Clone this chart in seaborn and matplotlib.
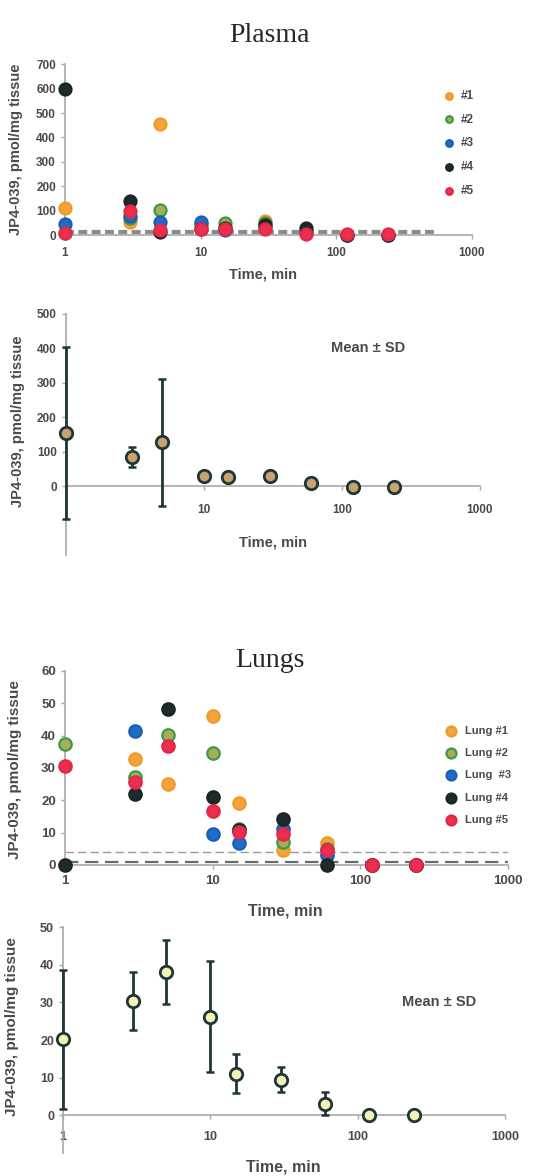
import numpy as np
import pandas as pd
import matplotlib
matplotlib.use("Agg")
import matplotlib.pyplot as plt
import seaborn as sns

# sampling times (min)
times = [1, 3, 5, 10, 15, 30, 60, 120, 240]

# plasma, individual animals
plasma_1 = [110, 55, 455, 40, 35, 60, 10, 0, 0]
plasma_2 = [10, 70, 105, 45, 50, 48, 12, 0, 0]
plasma_3 = [45, 80, 55, 55, 20, 35, 15, 0, 0]
plasma_4 = [600, 140, 15, 25, 30, 40, 28, 0, 0]
plasma_5 = [7, 100, 23, 27, 27, 25, 5, 3, 3]
plasma_names = ["#1", "#2", "#3", "#4", "#5"]

# plasma, mean and SD
plasma_mean = [155, 85, 127, 30, 27, 30, 10, -2, -2]
plasma_sd = [250, 30, 185, 0, 0, 0, 0, 0, 0]

# lungs, individual animals
lung_1 = [np.nan, 32.7, 25.0, 46.0, 19.3, 4.6, 6.9, 0, 0]
lung_2 = [37.3, 27.3, 40.2, 34.5, 11.0, 7.2, 5.0, 0, 0]
lung_3 = [np.nan, 41.4, np.nan, 9.6, 6.9, 11.0, 3.0, 0, 0]
lung_4 = [0.0, 21.9, 48.2, 20.9, 10.8, 14.1, 0.0, 0, 0]
lung_5 = [30.6, 25.8, 36.8, 16.8, 10.1, 9.6, 4.6, 0, 0]
lung_names = ["Lung #1", "Lung #2", "Lung  #3", "Lung #4", "Lung #5"]

# lungs, mean and SD
lung_mean = [20.2, 30.4, 38.2, 26.2, 11.1, 9.5, 3.1, 0, 0]
lung_sd = [18.5, 7.6, 8.5, 14.8, 5.1, 3.4, 3.0, 0, 0]

face_cols = ["#f5a33a", "#a8ad5c", "#1f6cc8", "#1e2b2b", "#ec2f4e"]
edge_cols = ["#f09a2a", "#3b9a45", "#1a5fb5", "#1a2626", "#e32748"]

sns.set_style("ticks")
plt.rcParams["font.family"] = ["Liberation Sans", "DejaVu Sans"]
plt.rcParams["font.weight"] = "bold"

txt_col = "#4a4a4a"
spine_col = "#a8a8a8"


def long_table(series, names):
    rows = []
    for vals, name in zip(series, names):
        for t, v in zip(times, vals):
            rows.append({"time": t, "value": v, "animal": name})
    return pd.DataFrame(rows).dropna()


def style_axis(ax, ymax, ystep, tick_fs, label_fs, xlab_fs, xpad):
    ax.set_xscale("log")
    ax.set_xlim(1, 1000)
    ax.set_xticks([1, 10, 100, 1000])
    ax.set_xticklabels(["1", "10", "100", "1000"])
    ax.xaxis.set_minor_locator(matplotlib.ticker.NullLocator())
    ax.set_yticks(np.arange(0, ymax + 1, ystep))
    for side in ["top", "right"]:
        ax.spines[side].set_visible(False)
    for side in ["left", "bottom"]:
        ax.spines[side].set_color(spine_col)
        ax.spines[side].set_linewidth(1.2)
    ax.tick_params(colors=spine_col, labelcolor=txt_col, labelsize=tick_fs, length=3, width=1)
    ax.tick_params(axis="x", pad=xpad)
    ax.set_xlabel("Time, min", fontsize=xlab_fs, fontweight="bold", color=txt_col)
    ax.set_ylabel("JP4-039, pmol/mg tissue", fontsize=label_fs, fontweight="bold", color=txt_col)


def scatter_panel(ax, df, names, size):
    for i, name in enumerate(names):
        sns.scatterplot(data=df[df["animal"] == name], x="time", y="value", ax=ax,
                        color=face_cols[i], edgecolor=edge_cols[i], linewidth=1.6,
                        s=size, label=name, clip_on=False, zorder=3 + i)


def mean_panel(ax, mean, sd, face):
    ax.errorbar(times, mean, yerr=sd, fmt="none", ecolor="#1f3636",
                elinewidth=2, capsize=3, capthick=1.8, zorder=3, clip_on=False)
    sns.scatterplot(x=times, y=mean, ax=ax, color=face, edgecolor="#1f3636",
                    linewidth=2, s=80, zorder=4, clip_on=False)


fig = plt.figure(figsize=(5.44, 11.76), dpi=100)

fig.text(0.496, 0.970, "Plasma", family="Liberation Serif", fontsize=20,
         fontweight="normal", ha="center", va="center")
fig.text(0.496, 0.438, "Lungs", family="Liberation Serif", fontsize=20,
         fontweight="normal", ha="center", va="center")

# Plasma individual
ax1 = fig.add_axes([0.1195, 0.800, 0.748, 0.1454])
plasma_df = long_table([plasma_1, plasma_2, plasma_3, plasma_4, plasma_5], plasma_names)
scatter_panel(ax1, plasma_df, plasma_names, 75)
ax1.plot([1, 550], [10, 10], color="#8c8c8c", lw=1.6, ls=(0, (4, 2)), zorder=2)
ax1.plot([1, 550], [18, 18], color="#8c8c8c", lw=1.6, ls=(0, (4, 2)), zorder=2)
style_axis(ax1, 700, 100, 8.5, 10.5, 10.5, 5.5)
ax1.set_ylim(0, 700)
ax1.yaxis.set_label_coords(-0.103, 0.5)
ax1.xaxis.set_label_coords(0.487, -0.19)
leg = ax1.legend(loc="upper left", bbox_to_anchor=(0.9, 0.885), frameon=False,
                 fontsize=8.5, handletextpad=0.0, labelspacing=1.0, markerscale=0.55,
                 borderpad=0)
for t in leg.get_texts():
    t.set_color(txt_col)

# Plasma mean
ax2 = fig.add_axes([0.121, 0.528, 0.761, 0.205])
mean_panel(ax2, plasma_mean, plasma_sd, "#c9a36e")
style_axis(ax2, 500, 100, 8.5, 10.5, 10.5, 9.5)
ax2.set_ylim(-200, 500)
ax2.set_xticklabels(["", "10", "100", "1000"])
ax2.spines["bottom"].set_position(("data", 0))
ax2.text(0.73, 0.86, "Mean \u00b1 SD", transform=ax2.transAxes, fontsize=10.5,
         fontweight="bold", color=txt_col, ha="center", va="center")
ax2.yaxis.set_label_coords(-0.099, 0.556)
ax2.xaxis.set_label_coords(0.50, 0.08)

# Lungs individual
ax3 = fig.add_axes([0.1195, 0.2645, 0.814, 0.165])
lung_df = long_table([lung_1, lung_2, lung_3, lung_4, lung_5], lung_names)
scatter_panel(ax3, lung_df, lung_names, 80)
ax3.plot([1, 1000], [4, 4], color="#9a9a9a", lw=1.0, ls=(0, (6, 3)), zorder=2)
ax3.plot([1, 1000], [0.8, 0.8], color="#6a6a6a", lw=1.6, ls=(0, (6, 3)), zorder=2)
style_axis(ax3, 60, 10, 9.5, 11, 11.5, 4)
ax3.set_ylim(0, 60)
ax3.yaxis.set_label_coords(-0.098, 0.49)
ax3.xaxis.set_label_coords(0.497, -0.2)
leg = ax3.legend(loc="upper left", bbox_to_anchor=(0.835, 0.745), frameon=False,
                 fontsize=8, handletextpad=0.2, labelspacing=1.1, markerscale=0.8,
                 borderpad=0)
for t in leg.get_texts():
    t.set_color(txt_col)

# Lungs mean
ax4 = fig.add_axes([0.116, 0.0196, 0.8125, 0.192])
mean_panel(ax4, lung_mean, lung_sd, "#f2f2b4")
style_axis(ax4, 50, 10, 9, 11, 11.5, 8)
ax4.set_ylim(-10, 50)
ax4.spines["bottom"].set_position(("data", 0))
ax4.text(0.85, 0.67, "Mean \u00b1 SD", transform=ax4.transAxes, fontsize=10.5,
         fontweight="bold", color=txt_col, ha="center", va="center")
ax4.yaxis.set_label_coords(-0.1, 0.56)
ax4.xaxis.set_label_coords(0.498, -0.03)

fig.savefig("out.png", dpi=100)
